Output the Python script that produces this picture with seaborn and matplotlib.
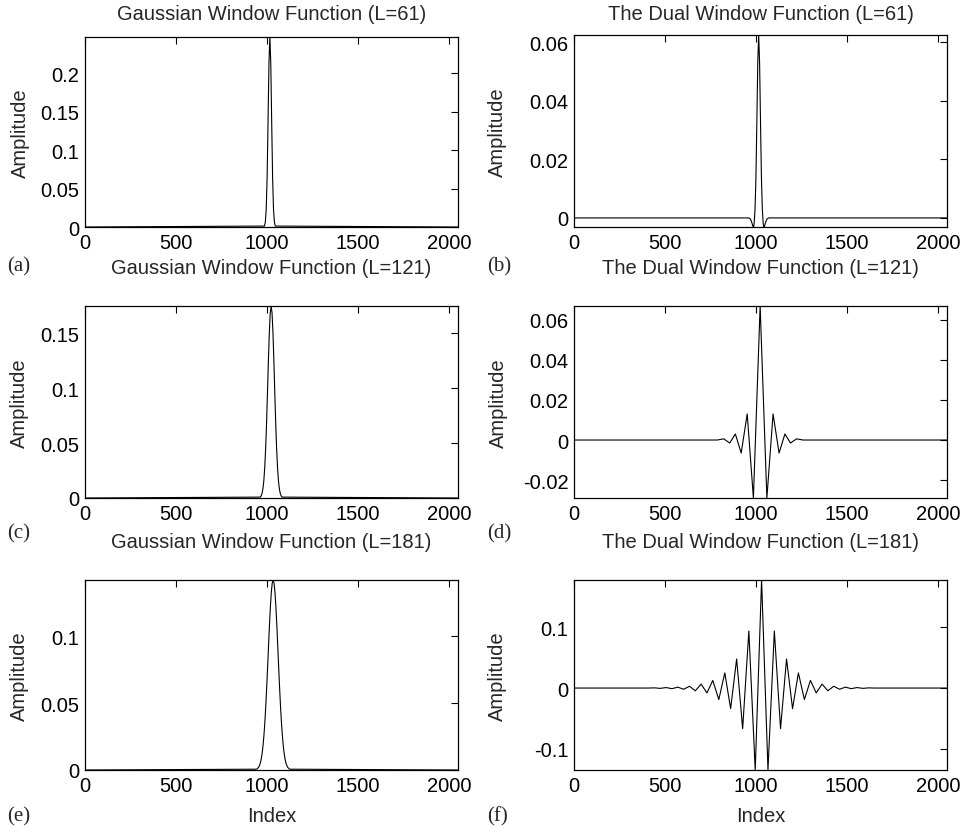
import matplotlib
matplotlib.use("Agg")
import matplotlib.pyplot as plt
from matplotlib import ticker
import seaborn as sns

# ---- Gaussian analysis windows (sample index, amplitude) ----
gauss61_idx = [0, 985, 990, 995, 1000, 1005, 1010, 1015, 1020, 1025, 1030, 1035, 1040, 1045, 2047]
gauss61_amp = [0, 0.0012, 0.0062, 0.023, 0.065, 0.137, 0.213, 0.247, 0.213, 0.137, 0.065,
               0.023, 0.0062, 0.0012, 0]

gauss121_idx = [0, 962, 967, 972, 977, 982, 987, 992, 997, 1002, 1007, 1012, 1017, 1022,
                1027, 1032, 1037, 1042, 1047, 1052, 1057, 1062, 1067, 1072, 1077, 1082, 2047]
gauss121_amp = [0, 0.0008, 0.0019, 0.0042, 0.0085, 0.0160, 0.0281, 0.0456, 0.0688, 0.0963,
                0.1251, 0.1507, 0.1686, 0.1750, 0.1686, 0.1507, 0.1251, 0.0963, 0.0688,
                0.0456, 0.0281, 0.0160, 0.0085, 0.0042, 0.0019, 0.0008, 0]

gauss181_idx = [0, 943, 953, 958, 963, 968, 973, 978, 983, 988, 993, 998, 1003, 1008, 1013,
                1018, 1023, 1028, 1033, 1038, 1043, 1048, 1053, 1058, 1063, 1068, 1073, 1078,
                1083, 1088, 1093, 1098, 1103, 1108, 1113, 1123, 2047]
gauss181_amp = [0, 0.0006, 0.0020, 0.0034, 0.0054, 0.0085, 0.0129, 0.0189, 0.0269, 0.0368,
                0.0489, 0.0628, 0.0780, 0.0937, 0.1088, 0.1222, 0.1329, 0.1397, 0.1420,
                0.1397, 0.1329, 0.1222, 0.1088, 0.0937, 0.0780, 0.0628, 0.0489, 0.0368,
                0.0269, 0.0189, 0.0129, 0.0085, 0.0054, 0.0034, 0.0020, 0.0006, 0]

# ---- Dual (synthesis) windows ----
dual61_idx = [0, 959, 969, 976, 982, 986, 989, 994, 999, 1004, 1009, 1014, 1019, 1024, 1029,
              1034, 1039, 1042, 1046, 1052, 1059, 1069, 2047]
dual61_amp = [0, 0, -0.0004, -0.0015, -0.0028, -0.0031, -0.0020, 0.0030, 0.0140, 0.0330,
              0.0530, 0.0625, 0.0530, 0.0330, 0.0140, 0.0030, -0.0020, -0.0031, -0.0028,
              -0.0015, -0.0004, 0, 0]

dual121_idx = [0, 787, 822, 855, 886, 918, 951, 985, 1022, 1059, 1093, 1126, 1158, 1189,
               1222, 1257, 2047]
dual121_amp = [0, 0, 0.0006, -0.0015, 0.003, -0.0065, 0.013, -0.0289, 0.0668, -0.0289,
               0.013, -0.0065, 0.003, -0.0015, 0.0006, 0, 0]

dual181_idx = [0, 410, 442, 474, 506, 538, 570, 602, 634, 666, 698, 730, 762, 795, 828, 860,
               893, 926, 960, 995, 1030, 1065, 1100, 1134, 1167, 1200, 1232, 1265, 1298,
               1330, 1362, 1394, 1426, 1458, 1490, 1522, 1554, 1586, 1618, 1650, 2047]
dual181_amp = [0, 0, 0.0003, -0.0005, 0.0008, -0.001, 0.0015, -0.002, 0.003, -0.0045,
               0.0065, -0.008, 0.0125, -0.019, 0.025, -0.034, 0.048, -0.067, 0.094, -0.135,
               0.178, -0.135, 0.094, -0.067, 0.048, -0.034, 0.025, -0.019, 0.0125, -0.008,
               0.0065, -0.0045, 0.003, -0.002, 0.0015, -0.001, 0.0008, -0.0005, 0.0003, 0, 0]

titles = ["Gaussian Window Function (L=61)", "The Dual Window Function (L=61)",
          "Gaussian Window Function (L=121)", "The Dual Window Function (L=121)",
          "Gaussian Window Function (L=181)", "The Dual Window Function (L=181)"]
letters = ["(a)", "(b)", "(c)", "(d)", "(e)", "(f)"]
x_ticks = [0, 500, 1000, 1500, 2000]
y_ticks = [[0, 0.05, 0.1, 0.15, 0.2], [0, 0.02, 0.04, 0.06],
           [0, 0.05, 0.1, 0.15], [-0.02, 0, 0.02, 0.04, 0.06],
           [0, 0.05, 0.1], [-0.1, 0, 0.1]]
series = [(gauss61_idx, gauss61_amp), (dual61_idx, dual61_amp),
          (gauss121_idx, gauss121_amp), (dual121_idx, dual121_amp),
          (gauss181_idx, gauss181_amp), (dual181_idx, dual181_amp)]

sns.set_theme(style="white")
plt.rcParams["font.family"] = ["Liberation Sans", "DejaVu Sans"]
plt.rcParams["axes.unicode_minus"] = False

W, H = 965, 829
fig = plt.figure(figsize=(W / 100, H / 100), dpi=100)
fig.patch.set_facecolor("white")

# axes boxes in pixels: left, top, right, bottom
boxes = [(85, 38, 458, 228), (574, 36, 947, 228),
         (85, 307, 458, 499), (574, 307, 947, 499),
         (85, 581, 458, 771), (574, 581, 947, 771)]
title_y = [15, 15, 269, 269, 543, 543]
letter_pos = [(7, 267), (487, 267), (7, 534), (487, 534), (7, 817), (487, 817)]
ylabel_x = [20, 497, 19, 498, 19, 497]

FS = 14.5
fmt = ticker.FuncFormatter(lambda v, p: f"{v:g}")

for i, ((xs, ys), (l, t, r, b)) in enumerate(zip(series, boxes)):
    ax = fig.add_axes([l / W, 1 - b / H, (r - l) / W, (b - t) / H])
    sns.lineplot(x=xs, y=ys, ax=ax, color="black", linewidth=0.8, estimator=None)
    ax.set_xlim(0, 2048)
    ax.set_ylim(min(ys), max(ys))
    ax.set_xticks(x_ticks)
    ax.set_yticks(y_ticks[i])
    ax.xaxis.set_major_formatter(fmt)
    ax.yaxis.set_major_formatter(fmt)
    ax.tick_params(direction="in", top=True, right=True, length=5, width=0.8,
                   labelsize=FS, colors="black", pad=4)
    for sp in ax.spines.values():
        sp.set_color("black")
        sp.set_linewidth(0.9)
    ax.set_xlabel("")
    ax.set_ylabel("")
    cx = (l + r) / 2
    fig.text(cx / W, 1 - title_y[i] / H, titles[i], ha="center", va="center", fontsize=FS)
    fig.text(ylabel_x[i] / W, 1 - (t + b) / 2 / H, "Amplitude", rotation=90,
             ha="center", va="center", fontsize=FS)
    lx, ly = letter_pos[i]
    fig.text(lx / W, 1 - ly / H, letters[i], ha="left", va="center", fontsize=15,
             family=["Liberation Serif", "DejaVu Serif"])
    if i >= 4:
        fig.text(cx / W, 1 - 817 / H, "Index", ha="center", va="center", fontsize=FS)

fig.savefig("out.png", dpi=100, facecolor="white")
